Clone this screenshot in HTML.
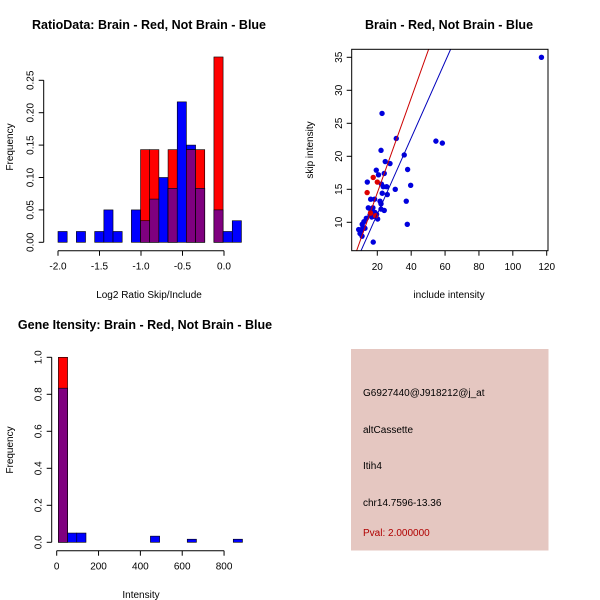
<!DOCTYPE html>
<html><head><meta charset="utf-8"><style>
body{margin:0;background:#fff}
svg{display:block;font-family:"Liberation Sans",sans-serif}
</style></head><body>
<svg id="c" width="600" height="600" viewBox="0 0 600 600">
<rect width="600" height="600" fill="#fff"/>
<text x="149" y="29" font-size="12.5" font-weight="bold" text-anchor="middle">RatioData: Brain - Red, Not Brain - Blue</text>
<text x="449" y="29" font-size="12.5" font-weight="bold" text-anchor="middle">Brain - Red, Not Brain - Blue</text>
<text x="145" y="329" font-size="12.5" font-weight="bold" text-anchor="middle">Gene Itensity: Brain - Red, Not Brain - Blue</text>
<text x="149" y="298" font-size="10" text-anchor="middle">Log2 Ratio Skip/Include</text>
<text x="13" y="147" font-size="10" text-anchor="middle" transform="rotate(-90 13 147)">Frequency</text>
<text x="449" y="298" font-size="10" text-anchor="middle">include intensity</text>
<text x="313" y="150" font-size="10" text-anchor="middle" transform="rotate(-90 313 150)">skip intensity</text>
<text x="141" y="598" font-size="10" text-anchor="middle">Intensity</text>
<text x="13" y="450" font-size="10" text-anchor="middle" transform="rotate(-90 13 450)">Frequency</text>
<rect x="351" y="349" width="197.5" height="201.5" fill="#e5c7c1"/>
<text x="363" y="396" font-size="10">G6927440@J918212@j_at</text>
<text x="363" y="433" font-size="10">altCassette</text>
<text x="363" y="469" font-size="10">Itih4</text>
<text x="363" y="506" font-size="10">chr14.7596-13.36</text>
<text x="363" y="536" font-size="10" fill="#b00000">Pval: 2.000000</text>
</svg>
<script>
// Ratio histogram data
const ratioBreakStart = -2.0;
const ratioBinWidth = 0.1105;
const ratioBlue = [0.0167,0,0.0167,0,0.0167,0.05,0.0167,0,0.05,0.0333,0.0667,0.1,0.0833,0.2167,0.15,0.0833,0,0.05,0.0167,0.0333];
const ratioRed  = [0,0,0,0,0,0,0,0,0,0.143,0.143,0,0.143,0,0.143,0.143,0,0.286,0,0];
const ratioXTicks = [-2.0,-1.5,-1.0,-0.5,0.0];
const ratioXLabels = ["-2.0","-1.5","-1.0","-0.5","0.0"];
const ratioYTicks = [0,0.05,0.10,0.15,0.20,0.25];
const ratioYLabels = ["0.00","0.05","0.10","0.15","0.20","0.25"];
// Scatter data
const blueX = [116.9,22.8,31.2,54.6,58.4,22.2,35.9,24.7,27.5,19.4,37.9,20.7,24.1,14.1,39.7,22.4,23.5,25.5,30.6,22.9,25.9,37.1,16.1,18.4,21.6,22.2,14.7,17.4,24.1,22.2,16.3,18.6,19.6,15.7,13.5,20.2,16.7,12.1,11.1,37.7,9,10.4,9.8,11,17.6,11.5,12.7,18];
const blueY = [35,26.5,22.7,22.3,22,20.9,20.2,19.2,18.9,17.9,18,17.2,17.4,16.1,15.6,15.8,15.4,15.4,15,14.4,14.2,13.2,13.5,13.5,13.2,12.8,12.2,12.2,11.8,12,11.7,11.5,11.2,11.1,10.6,10.5,10.8,10.1,9.7,9.7,8.9,8.6,8.3,7.9,7,9.2,9.1,10.9];
const redX = [17.6,20,14,16,19];
const redY = [16.8,16.1,14.5,11.4,11];
const redFit = [0.1,0.718];
const blueFit = [-0.3,0.577];
const scXTicks = [20,40,60,80,100,120];
const scYTicks = [10,15,20,25,30,35];
// Intensity histogram
const intBreakStart = 8;
const intBinWidth = 44;
const intBlue = [0.833,0.05,0.05,0,0,0,0,0,0,0,0.0333,0,0,0,0.0167,0,0,0,0,0.0167];
const intRed  = [1.0,0,0,0,0,0,0,0,0,0,0,0,0,0,0,0,0,0,0,0];
const intXTicks = [0,200,400,600,800];
const intYTicks = [0,0.2,0.4,0.6,0.8,1.0];
const intYLabels = ["0.0","0.2","0.4","0.6","0.8","1.0"];

const svg = document.getElementById('c');
const NS = 'http://www.w3.org/2000/svg';
function mk(tag, attrs){const e=document.createElementNS(NS,tag);for(const k in attrs)e.setAttribute(k,attrs[k]);svg.appendChild(e);return e;}

function hist(xs, ys, start, w, blue, red, name){
  for(let i=0;i<blue.length;i++){
    const x0=xs(start+i*w), x1=xs(start+(i+1)*w);
    const b=blue[i], r=red[i], m=Math.min(b,r);
    if(b>0){const e=mk('rect',{x:x0,y:ys(b),width:x1-x0,height:ys(0)-ys(b),fill:'#0000ff',stroke:'#000','stroke-width':0.6});
      
      }
    if(r>0){const e=mk('rect',{x:x0,y:ys(r),width:x1-x0,height:ys(0)-ys(r),fill:'#ff0000',stroke:'#000','stroke-width':0.6});
      
      }
    if(m>0){const e=mk('rect',{x:x0,y:ys(m),width:x1-x0,height:ys(0)-ys(m),fill:'#7f007f',stroke:'#000','stroke-width':0.6});
      
      }
  }
}
function xaxis(xs, y, ticks, labels, name){
  const l=mk('line',{x1:xs(ticks[0]),x2:xs(ticks[ticks.length-1]),y1:y,y2:y,stroke:'#000'});
  
  
  ticks.forEach((t,i)=>{mk('line',{x1:xs(t),x2:xs(t),y1:y,y2:y+5,stroke:'#000'});
    const tx=mk('text',{x:xs(t),y:y+19,'font-size':10,'text-anchor':'middle'});tx.textContent=labels[i];
    
    });
}
function yaxis(ys, x, ticks, labels, name){
  const l=mk('line',{x1:x,x2:x,y1:ys(ticks[0]),y2:ys(ticks[ticks.length-1]),stroke:'#000'});
  
  
  ticks.forEach((t,i)=>{mk('line',{x1:x-5,x2:x,y1:ys(t),y2:ys(t),stroke:'#000'});
    const tx=mk('text',{x:x-10,y:ys(t),'font-size':10,'text-anchor':'middle',transform:`rotate(-90 ${x-10} ${ys(t)})`});tx.textContent=labels[i];
    
    });
}
// Panel 1
const rx=v=>58+(v+2)*83, ry=v=>242.3-v*648;
hist(rx,ry,ratioBreakStart,ratioBinWidth,ratioBlue,ratioRed,'ratio');
xaxis(rx,250.7,ratioXTicks,ratioXLabels,'ratio-x-axis');
yaxis(ry,43.7,ratioYTicks,ratioYLabels,'ratio-y-axis');
// Panel 2
const sx=v=>377.3+(v-20)*1.694, sy=v=>222.3-(v-10)*6.6;
const cp=mk('clipPath',{id:'cp'});const cr=document.createElementNS(NS,'rect');
cr.setAttribute('x',351.7);cr.setAttribute('y',49.3);cr.setAttribute('width',196.3);cr.setAttribute('height',201.4);cp.appendChild(cr);
blueX.forEach((v,i)=>{const e=mk('circle',{cx:sx(v),cy:sy(blueY[i]),r:2.7,fill:'#0000dd'});
  
  });
redX.forEach((v,i)=>{const e=mk('circle',{cx:sx(v),cy:sy(redY[i]),r:2.7,fill:'#dd0000'});
  
  });
[[redFit,'#cc0000','brain-fit-line'],[blueFit,'#0000bb','not-brain-fit-line']].forEach(([f,c,n])=>{
  const e=mk('line',{x1:sx(0),y1:sy(f[0]),x2:sx(130),y2:sy(f[0]+f[1]*130),stroke:c,'stroke-width':1,'clip-path':'url(#cp)'});
  
  });
const box=mk('rect',{x:351.7,y:49.3,width:196.3,height:201.4,fill:'none',stroke:'#000'});


scXTicks.forEach(t=>{mk('line',{x1:sx(t),x2:sx(t),y1:250.7,y2:255.7,stroke:'#000'});
  const tx=mk('text',{x:sx(t),y:270,'font-size':10,'text-anchor':'middle'});tx.textContent=t;
  
  });
scYTicks.forEach(t=>{mk('line',{x1:346.7,x2:351.7,y1:sy(t),y2:sy(t),stroke:'#000'});
  const tx=mk('text',{x:342,y:sy(t),'font-size':10,'text-anchor':'middle',transform:`rotate(-90 342 ${sy(t)})`});tx.textContent=t;
  
  });
// Panel 3
const ix=v=>56.7+v*0.2092, iy=v=>542.3-v*185;
hist(ix,iy,intBreakStart,intBinWidth,intBlue,intRed,'intensity');
xaxis(ix,550.7,intXTicks,intXTicks.map(String),'intensity-x-axis');
yaxis(iy,51.7,intYTicks,intYLabels,'intensity-y-axis');
</script>
</body></html>
